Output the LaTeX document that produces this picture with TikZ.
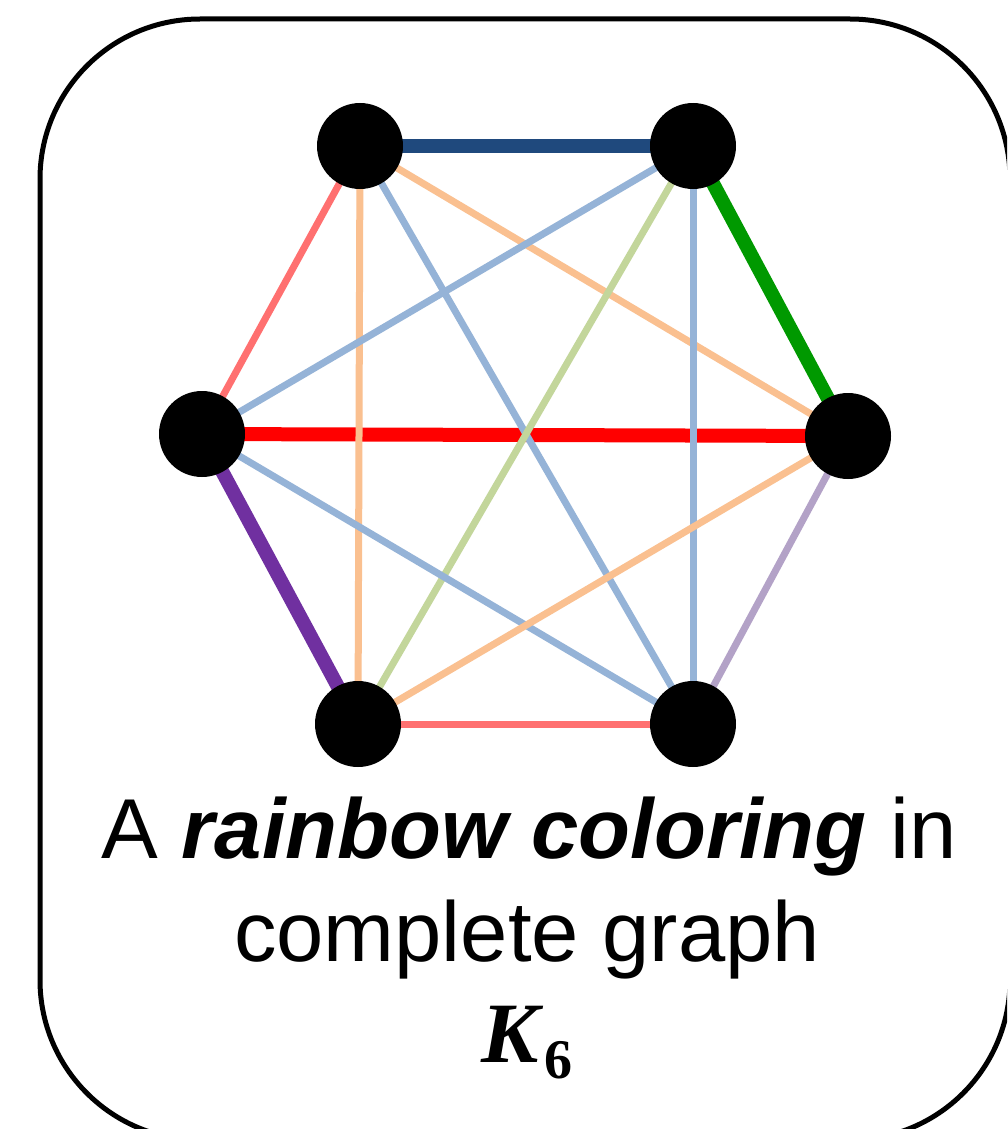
\documentclass[tikz,border=0pt]{standalone}
\usepackage{fontspec}
\setmainfont{Liberation Sans}
\newfontfamily\kserif{Liberation Serif}
\definecolor{cdblue}{HTML}{1F497D}
\definecolor{cgreen}{HTML}{009900}
\definecolor{cred}{HTML}{FF0000}
\definecolor{cpurple}{HTML}{7030A0}
\definecolor{clred}{HTML}{FF7070}
\definecolor{clorange}{HTML}{FAC090}
\definecolor{clblue}{HTML}{95B3D7}
\definecolor{clgreen}{HTML}{C3D69B}
\definecolor{clpurple}{HTML}{B3A2C7}
\tikzset{
  vtx/.style={circle,fill=black,inner sep=0pt,minimum size=86pt},
  thickedge/.style={line width=14pt},
  thinedge/.style={line width=7pt},
  frame/.style={draw=black,line width=5pt,rounded corners=160pt},
  caption/.style={align=center,font=\fontsize{85}{100}\selectfont,inner sep=0pt}
}
\begin{document}
\begin{tikzpicture}[x=1pt,y=-1pt]
\useasboundingbox (0,0) rectangle (1007,1129);
\clip (0,0) rectangle (1007,1129);
\fill[white] (0,0) rectangle (1007,1129);
\draw[frame] (40,19) rectangle (1010,1140);
\coordinate (ptl) at (360,146);
\coordinate (ptr) at (693,146);
\coordinate (pl) at (202,434);
\coordinate (pr) at (848,436);
\coordinate (pbl) at (358,724);
\coordinate (pbr) at (693,724);
% edges
\draw[thickedge,cdblue] (ptl) -- (ptr);
\draw[thickedge,cgreen] (ptr) -- (pr);
\draw[thickedge,cred] (pl) -- (pr);
\draw[thickedge,cpurple] (pl) -- (pbl);
\draw[thinedge,clred] (ptl) -- (pl);
\draw[thinedge,clred] (pbl) -- (pbr);
\draw[thinedge,clpurple] (pbr) -- (pr);
\draw[thinedge,clorange] (ptl) -- (pbl);
\draw[thinedge,clorange] (ptl) -- (pr);
\draw[thinedge,clblue] (ptl) -- (pbr);
\draw[thinedge,clblue] (ptr) -- (pl);
\draw[thinedge,clgreen] (ptr) -- (pbl);
\draw[thinedge,clblue] (ptr) -- (pbr);
\draw[thinedge,clblue] (pl) -- (pbr);
\draw[thinedge,clorange] (pr) -- (pbl);
% vertices on top
\node[vtx] (tl) at (ptl) {};
\node[vtx] (tr) at (ptr) {};
\node[vtx] (l) at (pl) {};
\node[vtx] (r) at (pr) {};
\node[vtx] (bl) at (pbl) {};
\node[vtx] (br) at (pbr) {};
\node[caption,anchor=base] (line1) at (529,858) {A \textbf{\textit{rainbow coloring}} in};
\node[caption,anchor=base] (line2) at (527,961) {complete graph};
\node[anchor=base,inner sep=0pt,font=\kserif\fontsize{86}{86}\selectfont] (line3) at (527,1062) {\textbf{\textit{K}}\raisebox{-16pt}{\fontsize{56}{56}\selectfont\textbf{6}}};
\end{tikzpicture}
\end{document}
